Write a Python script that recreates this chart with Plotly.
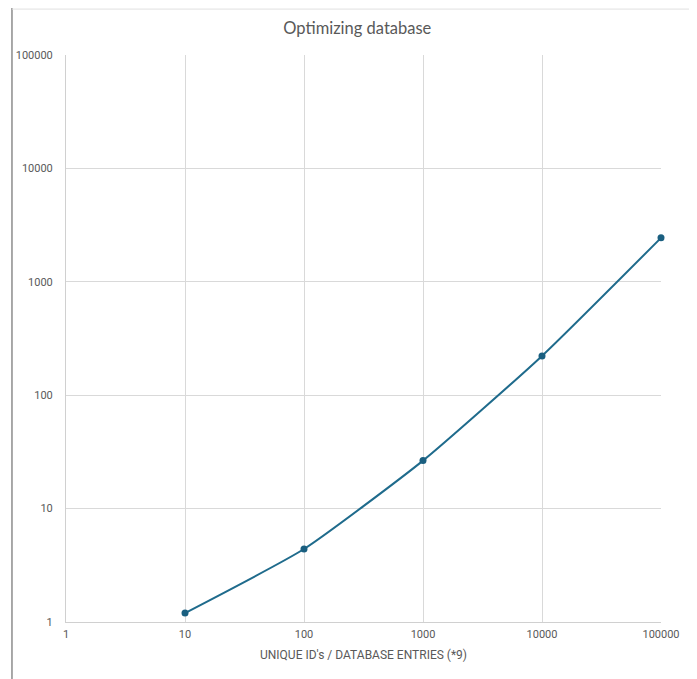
import plotly.graph_objects as go

entries = [10, 100, 1000, 10000, 100000]
times = [1.2, 4.4, 26.5, 222, 2440]
x_ticks = [1, 10, 100, 1000, 10000, 100000]
y_ticks = [1, 10, 100, 1000, 10000, 100000]

fig = go.Figure()
fig.add_trace(go.Scatter(
    x=entries, y=times, mode="lines+markers", cliponaxis=False,
    line=dict(color="#1f6b8c", width=2, shape="spline", smoothing=0.5),
    marker=dict(color="#1a5f80", size=7),
    showlegend=False,
))

tickfont = dict(family="Liberation Sans Narrow, Roboto, sans-serif", size=11, color="#595959")
fig.update_layout(
    width=689, height=671,
    paper_bgcolor="white", plot_bgcolor="white",
    margin=dict(l=58, r=36, t=47, b=57),
    title=dict(text="Optimizing database", x=0.507, xanchor="center", y=0.970, yanchor="middle",
               font=dict(family="Lato, Open Sans, sans-serif", size=16.5, color="#595959")),
    xaxis=dict(type="log", range=[0, 5], tickvals=x_ticks, ticktext=[str(v) for v in x_ticks],
               showgrid=True, gridcolor="#d9d9d9", gridwidth=1, automargin=False,
               showline=True, linecolor="#d0d0d0", linewidth=1, zeroline=False,
               ticks="", tickfont=tickfont, ticklabelstandoff=2,
               title=dict(text="UNIQUE ID's / DATABASE ENTRIES (*9)", standoff=10,
                          font=dict(family="Liberation Sans Narrow, Roboto, sans-serif", size=12, color="#595959"))),
    yaxis=dict(type="log", range=[0, 5], tickvals=y_ticks, ticktext=[str(v) for v in y_ticks],
               showgrid=True, gridcolor="#d9d9d9", gridwidth=1, automargin=False,
               showline=True, linecolor="#d0d0d0", linewidth=1, zeroline=False,
               ticks="", tickfont=tickfont, ticklabelstandoff=10),
    shapes=[
        dict(type="line", xref="paper", yref="paper", x0=-0.0908, x1=-0.0908, y0=-0.12, y1=1.083,
             line=dict(color="#8c8c8c", width=1.5)),
        dict(type="line", xref="paper", yref="paper", x0=-0.0908, x1=1.054, y0=1.081, y1=1.081,
             line=dict(color="#e0e0e0", width=1)),
        dict(type="line", xref="paper", yref="paper", x0=1.054, x1=1.054, y0=-0.12, y1=1.081,
             line=dict(color="#e0e0e0", width=1)),
    ],
)
fig.write_html("out.html")
